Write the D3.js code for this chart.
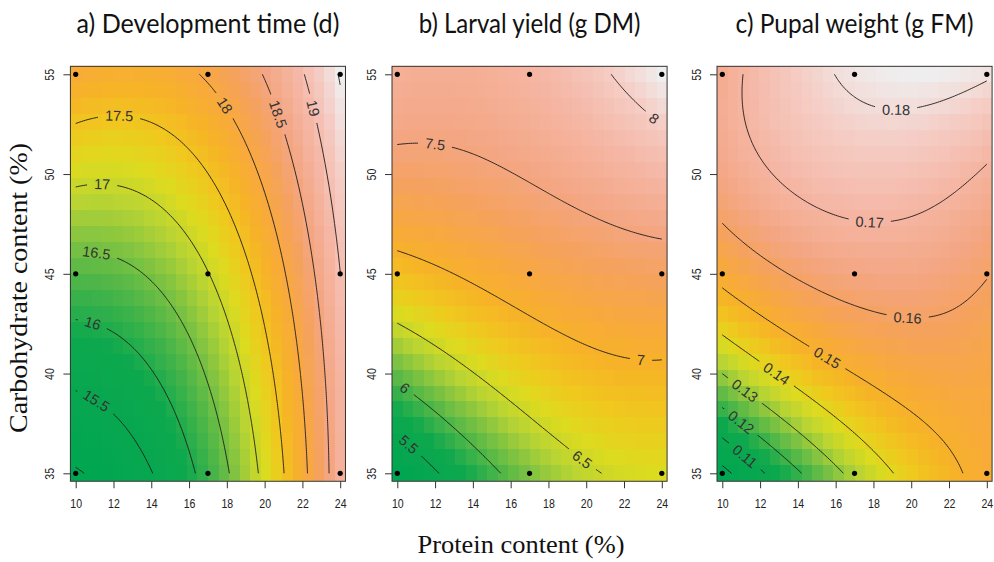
<!DOCTYPE html>
<html>
<head>
<meta charset="utf-8">
<script src="https://cdn.jsdelivr.net/npm/d3@7"></script>
<style>
  body { margin: 0; background: #fff; }
  svg { display: block; }
</style>
</head>
<body>
<svg id="chart" width="994" height="562"></svg>
<script>
// ---- Response-surface readings: [protein %, carbohydrate %, value] ----
const devTimeObs = [
  [10.0,35.0,14.95],[10.2,35.1,15.0],
  [10.0,39.3,15.5],[11.0,38.5,15.5],[12.0,37.8,15.5],[13.1,36.8,15.5],[14.1,35.0,15.5],
  [10.0,42.8,16.0],[10.9,42.5,16.0],[11.6,42.3,16.0],[13.6,40.7,16.0],[14.8,39.0,16.0],[15.7,37.3,16.0],[16.3,35.0,16.0],
  [10.0,46.1,16.5],[11.1,45.9,16.5],[12.4,45.6,16.5],[14.5,44.2,16.5],[15.5,42.9,16.5],[16.6,40.5,16.5],[17.3,38.2,16.5],[18.1,35.0,16.5],
  [10.0,49.4,17.0],[11.4,49.4,17.0],[12.3,49.4,17.0],[13.6,49.0,17.0],[15.0,48.2,17.0],[16.2,47.0,17.0],[17.0,45.0,17.0],[17.9,42.7,17.0],[18.7,40.2,17.0],[19.3,37.5,17.0],[19.7,35.0,17.0],
  [10.0,52.4,17.5],[12.3,52.6,17.5],[13.5,52.6,17.5],[15.9,51.5,17.5],[16.6,50.6,17.5],[18.0,48.7,17.5],[18.9,47.0,17.5],[19.2,45.2,17.5],[20.1,41.9,17.5],[20.7,38.5,17.5],[21.0,35.0,17.5],
  [16.6,55.0,18.0],[17.3,54.1,18.0],[17.8,53.4,18.0],[18.3,52.8,18.0],[19.4,50.6,18.0],[20.1,48.6,18.0],[21.0,45.2,18.0],[21.7,41.9,18.0],[22.1,38.5,18.0],[22.3,35.0,18.0],
  [19.9,55.0,18.5],[20.7,53.0,18.5],[21.1,51.8,18.5],[21.5,50.1,18.5],[22.0,48.1,18.5],[22.5,45.2,18.5],[23.0,41.9,18.5],[23.3,38.5,18.5],[23.4,35.0,18.5],
  [22.2,55.0,19.0],[22.5,53.3,19.0],[22.8,52.5,19.0],[23.3,50.3,19.0],[23.8,48.0,19.0],[24.0,44.5,19.0],
  [23.9,55.0,19.5],[24.0,54.3,19.5],[10.0,55.0,17.85]
];

const larvalYieldObs = [
  [21.5,55.0,8.0],[22.3,54.1,8.0],[23.2,53.1,8.0],[23.5,52.6,8.0],[24.0,52.1,8.0],
  [10.0,51.2,7.5],[12.0,51.3,7.5],[14.2,51.2,7.5],[15.5,50.9,7.5],[16.7,50.2,7.5],[18.0,49.5,7.5],[19.4,48.7,7.5],[20.7,48.0,7.5],[21.9,47.3,7.5],[23.2,46.9,7.5],[24.0,46.7,7.5],
  [10.0,46.1,7.0],[11.2,45.7,7.0],[12.6,45.1,7.0],[14.1,44.3,7.0],[15.5,43.4,7.0],[16.9,42.5,7.0],[18.3,41.9,7.0],[19.8,41.4,7.0],[21.5,40.9,7.0],[22.9,40.9,7.0],[24.0,40.9,7.0],
  [10.0,42.6,6.5],[11.2,41.9,6.5],[12.6,41.0,6.5],[14.1,39.9,6.5],[15.5,38.8,6.5],[16.9,37.7,6.5],[19.0,36.2,6.5],[19.9,35.8,6.5],[21.1,35.0,6.5],
  [10.0,39.5,6.0],[10.4,39.3,6.0],[10.9,38.9,6.0],[12.6,37.8,6.0],[14.1,36.7,6.0],[15.3,35.0,6.0],
  [10.0,37.2,5.5],[10.7,36.5,5.5],[11.4,36.0,5.5],[12.3,35.0,5.5],
  [10.0,35.0,5.2],[10.0,55.0,7.65],[17.0,55.0,7.8],[24.0,55.0,8.2],[24.0,35.0,6.6]
];

const pupalWeightObs = [
  [16.1,55.0,0.18],[16.6,54.3,0.18],[17.3,53.8,0.18],[18.0,53.5,0.18],[19.2,53.4,0.18],[20.4,53.4,0.18],[21.5,53.6,0.18],[22.7,54.1,0.18],[24.0,54.6,0.18],
  [11.4,55.0,0.17],[11.2,53.6,0.17],[11.3,52.3,0.17],[11.8,51.0,0.17],[12.7,49.8,0.17],[13.9,48.8,0.17],[15.2,48.1,0.17],[16.2,47.7,0.17],[17.8,47.6,0.17],[19.0,47.6,0.17],[20.3,47.9,0.17],[21.5,48.7,0.17],[22.7,49.5,0.17],[24.0,50.5,0.17],
  [10.0,47.5,0.16],[11.1,46.5,0.16],[12.3,45.7,0.16],[13.8,44.8,0.16],[15.2,44.2,0.16],[16.9,43.3,0.16],[18.3,43.0,0.16],[19.8,42.9,0.16],[21.2,42.8,0.16],[22.6,43.3,0.16],[23.6,44.2,0.16],[24.0,44.7,0.16],
  [10.0,44.3,0.15],[11.5,43.3,0.15],[12.9,42.5,0.15],[14.5,41.4,0.15],[15.5,40.8,0.15],[16.6,40.1,0.15],[18.0,39.4,0.15],[19.4,38.7,0.15],[20.4,38.0,0.15],[21.3,37.2,0.15],[21.9,36.2,0.15],[22.4,35.0,0.15],
  [10.0,41.8,0.14],[11.1,41.4,0.14],[12.0,40.7,0.14],[12.9,40.0,0.14],[13.9,39.2,0.14],[15.0,38.5,0.14],[16.2,37.7,0.14],[17.3,36.9,0.14],[18.3,35.9,0.14],[19.0,35.0,0.14],
  [10.0,39.9,0.13],[11.2,39.2,0.13],[12.2,38.4,0.13],[13.4,37.5,0.13],[14.6,36.5,0.13],[16.4,35.0,0.13],
  [10.0,38.3,0.12],[11.0,37.5,0.12],[12.1,36.8,0.12],[14.2,35.0,0.12],
  [10.0,36.8,0.11],[11.2,35.9,0.11],[12.3,35.0,0.11],
  [10.2,35.2,0.10],
  [10.0,51.0,0.165],[10.0,55.0,0.168],[17.0,55.0,0.182],[19.5,55.0,0.183],[24.0,35.0,0.152]
];

// ---- Contour levels ----
const devTimeLevels = [15, 15.5, 16, 16.5, 17, 17.5, 18, 18.5, 19, 19.5];
const larvalYieldLevels = [5.5, 6, 6.5, 7, 7.5, 8];
const pupalWeightLevels = [0.10, 0.11, 0.12, 0.13, 0.14, 0.15, 0.16, 0.17, 0.18];

// ---- Axes, design points, titles ----
const proteinTicks = [10, 12, 14, 16, 18, 20, 22, 24];
const carbTicks = [35, 40, 45, 50, 55];
const designProtein = [10, 17, 24];
const designCarb = [35, 45, 55];
const panelTitles = ["a) Development time (d)", "b) Larval yield (g DM)", "c) Pupal weight (g FM)"];
const xTitle = "Protein content (%)";
const yTitle = "Carbohydrate content (%)";

// ---- Where each contour label sits along its line: [level, protein, carbohydrate] ----
const devTimeLabelAt = [[15.5,11.0,38.5],[16,10.85,42.5],[16.5,11.1,45.86],[17,11.43,49.4],[17.5,12.3,52.6],[18,17.83,53.38],[18.5,20.65,52.96],[19,22.5,53.3]];
const larvalYieldLabelAt = [[8,23.5,52.6],[7.5,12.0,51.34],[7,22.88,40.85],[6.5,19.85,35.84],[6,10.41,39.26],[5.5,10.68,36.5]];
const pupalWeightLabelAt = [[0.18,19.21,53.39],[0.17,17.8,47.6],[0.16,19.83,42.92],[0.15,15.51,40.76],[0.14,12.87,40.02],[0.13,11.2,39.19],[0.12,11.02,37.52],[0.11,11.2,35.86]];

// ---- Layout ----
const panelX10 = [75.7, 397.3, 722.3];   // pixel x of protein = 10 in each panel
const PANEL_SPAN = 264.5;                // pixels from protein 10 to 24
const Y55 = 74.3, Y35 = 473.3;
const CELLS = 26;                        // image grid resolution per axis
const FONT_SANS = "'Liberation Sans', Arial, sans-serif";
const FONT_SERIF = "'Liberation Serif', 'Times New Roman', serif";
const SQUEEZE = 0.88;
const titleWidths = [263, 222, 238];

// terrain-like ramp, from low (green) to high (near white)
const ramp = [
  [0.00,"#00A651"],[0.20,"#0DA84E"],[0.28,"#45B449"],[0.35,"#7DC242"],[0.42,"#B9D433"],
  [0.48,"#DDDB1F"],[0.54,"#F0C81E"],[0.60,"#F7B327"],[0.66,"#F8A93E"],[0.72,"#F5A25E"],
  [0.78,"#F4A683"],[0.86,"#F5B7A6"],[0.93,"#F5CCC4"],[1.00,"#EFEEEE"]
];
const ramp01 = d3.scaleLinear()
  .domain(ramp.map(d => d[0])).range(ramp.map(d => d[1]))
  .interpolate(d3.interpolateRgb).clamp(true);

// least-squares polynomial surface in protein and carbohydrate
function fitSurface(obs, deg) {
  const terms = [];
  for (let i = 0; i <= deg; i++) for (let j = 0; j <= deg - i; j++) terms.push([i, j]);
  const basis = (p, c) => {
    const u = (p - 17) / 7, v = (c - 45) / 10;
    return terms.map(([i, j]) => Math.pow(u, i) * Math.pow(v, j));
  };
  const n = terms.length;
  const A = Array.from({length: n}, () => new Array(n).fill(0));
  const b = new Array(n).fill(0);
  obs.forEach(([p, c, z]) => {
    const f = basis(p, c);
    for (let i = 0; i < n; i++) {
      b[i] += f[i] * z;
      for (let j = 0; j < n; j++) A[i][j] += f[i] * f[j];
    }
  });
  for (let i = 0; i < n; i++) A[i][i] += 1e-8;
  const M = A.map((row, i) => row.concat([b[i]]));
  for (let col = 0; col < n; col++) {
    let piv = col;
    for (let r = col + 1; r < n; r++) if (Math.abs(M[r][col]) > Math.abs(M[piv][col])) piv = r;
    [M[col], M[piv]] = [M[piv], M[col]];
    for (let r = 0; r < n; r++) {
      if (r === col) continue;
      const k = M[r][col] / M[col][col];
      for (let q = col; q <= n; q++) M[r][q] -= k * M[col][q];
    }
  }
  const coef = M.map((row, i) => row[n] / row[i]);
  return (p, c) => basis(p, c).reduce((s, fi, k) => s + fi * coef[k], 0);
}

// text squeezed horizontally to a given width, centred on its anchor
function fittedText(parent, str, width, family, size, baseTransform) {
  const t = parent.append("text")
    .attr("text-anchor", "middle")
    .style("font-family", family).style("font-size", size + "px")
    .attr("fill", "#111")
    .text(str);
  const natural = t.node().getComputedTextLength();
  t.attr("transform", `${baseTransform} scale(${width / natural},1)`);
  return t;
}

const panels = [
  {title: panelTitles[0], obs: devTimeObs, levels: devTimeLevels, labelAt: devTimeLabelAt, deg: 3},
  {title: panelTitles[1], obs: larvalYieldObs, levels: larvalYieldLevels, labelAt: larvalYieldLabelAt, deg: 3},
  {title: panelTitles[2], obs: pupalWeightObs, levels: pupalWeightLevels, labelAt: pupalWeightLabelAt, deg: 3}
];

const svg = d3.select("#chart");
const defs = svg.append("defs");

panels.forEach((pn, k) => {
  const surf = fitSurface(pn.obs, pn.deg);
  const x = d3.scaleLinear().domain([10, 24]).range([panelX10[k], panelX10[k] + PANEL_SPAN]);
  const y = d3.scaleLinear().domain([35, 55]).range([Y35, Y55]);
  const g = svg.append("g");

  // --- image cells ---
  const dp = 14 / (CELLS - 1), dc = 20 / (CELLS - 1);
  const cells = [];
  for (let j = 0; j < CELLS; j++)
    for (let i = 0; i < CELLS; i++) {
      const p = 10 + i * dp, c = 35 + j * dc;
      cells.push({p, c, z: surf(p, c)});
    }
  const [zmin, zmax] = d3.extent(cells, d => d.z);
  g.append("g").selectAll("rect").data(cells).join("rect")
    .attr("x", d => x(d.p - dp / 2))
    .attr("y", d => y(d.c + dc / 2))
    .attr("width", d => x(d.p + dp / 2) - x(d.p - dp / 2))
    .attr("height", d => y(d.c - dc / 2) - y(d.c + dc / 2))
    .attr("fill", d => ramp01((d.z - zmin) / (zmax - zmin)))
    .attr("shape-rendering", "crispEdges");

  // --- contour lines on a fine grid ---
  const NX = 141, NY = 201, step = 0.1;
  const vals = new Float64Array(NX * NY);
  for (let j = 0; j < NY; j++)
    for (let i = 0; i < NX; i++) vals[j * NX + i] = surf(10 + i * step, 35 + j * step);
  const toPx = ([X, Y]) => [x(10 + (X - 0.5) * step), y(35 + (Y - 0.5) * step)];
  const contourSets = d3.contours().size([NX, NY]).thresholds(pn.levels)(vals);

  const linesByLevel = new Map();
  contourSets.forEach(mp => {
    const lines = [];
    mp.coordinates.forEach(poly => poly.forEach(ring => {
      const pts = ring.slice(0, -1);
      const edge = pts.map(([X, Y]) => X === 0 || X === NX || Y === 0 || Y === NY);
      const k0 = edge.indexOf(true);
      if (k0 < 0) { lines.push(ring.map(toPx)); return; }
      let cur = [];
      for (let s = 1; s <= pts.length; s++) {
        const q = (k0 + s) % pts.length;
        if (edge[q]) { if (cur.length > 1) lines.push(cur); cur = []; }
        else cur.push(toPx(pts[q]));
      }
      if (cur.length > 1) lines.push(cur);
    }));
    linesByLevel.set(mp.value, lines);
  });

  // --- labels and the gaps they cut into the lines ---
  const maskId = "gap" + k;
  const mask = defs.append("mask").attr("id", maskId)
    .attr("maskUnits", "userSpaceOnUse")
    .attr("x", 0).attr("y", 0).attr("width", 994).attr("height", 562);
  mask.append("rect").attr("x", 0).attr("y", 0).attr("width", 994).attr("height", 562).attr("fill", "white");

  const labelG = svg.append("g");
  pn.labelAt.forEach(([lev, lp, lc]) => {
    const lines = linesByLevel.get(lev) || [];
    const tx = x(lp), ty = y(lc);
    let best = null, bd = Infinity;
    lines.forEach(line => line.forEach((pt, idx) => {
      const d = (pt[0] - tx) ** 2 + (pt[1] - ty) ** 2;
      if (d < bd) { bd = d; best = {line, idx}; }
    }));
    if (!best) return;
    const L = best.line, i0 = best.idx;
    const a0 = L[Math.max(0, i0 - 5)], a1 = L[Math.min(L.length - 1, i0 + 5)];
    let ang = Math.atan2(a1[1] - a0[1], a1[0] - a0[0]) * 180 / Math.PI;
    if (ang > 90) ang -= 180;
    if (ang < -90) ang += 180;
    const [cx, cy] = L[i0];
    const tf = `translate(${cx},${cy}) rotate(${ang})`;
    const t = labelG.append("text")
      .attr("transform", tf)
      .attr("text-anchor", "middle")
      .attr("dy", "0.36em")
      .style("font-family", FONT_SANS)
      .style("font-size", "14.5px")
      .attr("fill", "#333")
      .text(String(lev));
    const w = t.node().getComputedTextLength();
    mask.append("rect").attr("transform", tf)
      .attr("x", -w / 2 - 7).attr("y", -7).attr("width", w + 14).attr("height", 14)
      .attr("fill", "black");
  });

  const lineGen = d3.line();
  const lg = g.append("g").attr("mask", `url(#${maskId})`);
  linesByLevel.forEach(lines => lines.forEach(line => {
    lg.append("path").attr("d", lineGen(line))
      .attr("fill", "none").attr("stroke", "#1a1a1a").attr("stroke-width", 0.9);
  }));
  labelG.raise();

  // --- design points ---
  const pts = [];
  designCarb.forEach(c => designProtein.forEach(p => pts.push([p, c])));
  svg.append("g").selectAll("circle").data(pts).join("circle")
    .attr("cx", d => x(d[0])).attr("cy", d => y(d[1])).attr("r", 2.6).attr("fill", "#000");

  // --- frame ---
  const fx0 = x(10 - dp / 2), fx1 = x(24 + dp / 2), fy0 = y(55 + dc / 2), fy1 = y(35 - dc / 2);
  svg.append("rect").attr("x", fx0).attr("y", fy0).attr("width", fx1 - fx0).attr("height", fy1 - fy0)
    .attr("fill", "none").attr("stroke", "#333").attr("stroke-width", 1);

  // --- axes ---
  const ax = svg.append("g").attr("transform", `translate(0,${fy1})`)
    .call(d3.axisBottom(x).tickValues(proteinTicks).tickSize(7).tickPadding(11.5));
  ax.select(".domain").remove();
  ax.selectAll(".tick line").attr("stroke", "#333");
  ax.selectAll(".tick text")
    .attr("transform", `scale(${SQUEEZE},1)`)
    .style("font-family", FONT_SANS).style("font-size", "12px").attr("fill", "#222");

  const ay = svg.append("g").attr("transform", `translate(${fx0},0)`)
    .call(d3.axisLeft(y).tickValues(carbTicks).tickSize(7));
  ay.select(".domain").remove();
  ay.selectAll(".tick line").attr("stroke", "#333");
  ay.selectAll(".tick text")
    .attr("x", 0).attr("y", -16.5).attr("dy", null)
    .attr("text-anchor", "middle")
    .attr("transform", `rotate(-90) scale(${SQUEEZE},1)`)
    .style("font-family", FONT_SANS).style("font-size", "12px").attr("fill", "#222");

  // --- panel title ---
  fittedText(svg, pn.title, titleWidths[k], "Lato, 'Open Sans', sans-serif", 27,
    `translate(${x(17)},33)`);
});

// shared axis titles
fittedText(svg, xTitle, 207, FONT_SERIF, 26, "translate(521,553)");
fittedText(svg, yTitle, 290, FONT_SERIF, 26, "translate(27,288) rotate(-90)");
</script>
</body>
</html>
